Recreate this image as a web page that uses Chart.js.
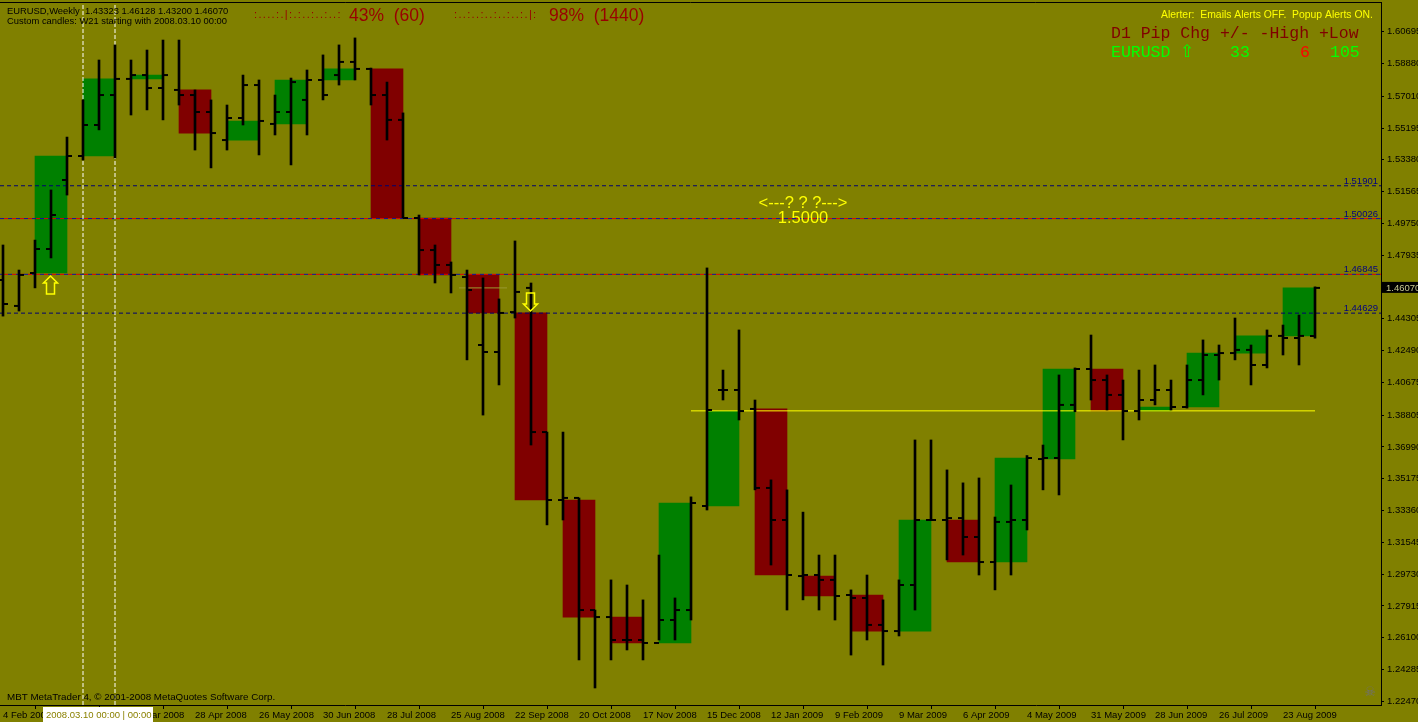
<!DOCTYPE html>
<html><head><meta charset="utf-8">
<script src="https://cdn.jsdelivr.net/npm/chart.js@4.4.1/dist/chart.umd.min.js"></script>
<style>html,body{margin:0;padding:0;background:#808000;overflow:hidden}</style>
</head><body>
<canvas id="c" width="1418" height="722" style="width:1418px;height:722px;display:block"></canvas>
<script>
// ---- weekly OHLC bars (EURUSD, Weekly), first bar = week of 4 Feb 2008 ----
const weekOpen = [
 1.4652,1.4504,1.4692,1.4829,1.5223,1.5360,1.5537,1.5708,1.5800,1.5822,
 1.5748,1.5737,1.5708,1.5611,1.5451,1.5577,1.5765,1.5543,1.5611,1.5680,
 1.5794,1.5822,1.5897,1.5857,1.5708,1.5566,1.5006,1.4823,1.4738,1.4669,
 1.4281,1.4241,1.4469,1.4607,1.3784,1.3396,1.3408,1.2768,1.2728,1.2597,
 1.2597,1.2580,1.2711,1.2768,1.3362,1.4024,1.4024,1.3916,1.3465,1.3282,
 1.2962,1.2968,1.2940,1.2854,1.2837,1.2683,1.2648,1.2911,1.3282,1.3282,
 1.3293,1.3185,1.3042,1.3271,1.3282,1.3630,1.3636,1.3939,1.4144,1.4081,
 1.3996,1.3904,1.3967,1.4024,1.3927,1.4081,1.4224,1.4235,1.4253,1.4167,
 1.4333,1.4321,1.43323];
const weekHigh = [
 1.4852,1.4709,1.4880,1.5166,1.5468,1.5680,1.5908,1.5994,1.5908,1.5965,
 1.6022,1.6022,1.5737,1.5680,1.5651,1.5822,1.5794,1.5708,1.5805,1.5851,
 1.5937,1.5994,1.6034,1.5862,1.5782,1.5606,1.5023,1.4852,1.4755,1.4709,
 1.4664,1.4544,1.4875,1.4635,1.3784,1.3784,1.3408,1.2768,1.2940,1.2911,
 1.2826,1.3082,1.2837,1.3414,1.4721,1.4138,1.4367,1.3967,1.3511,1.3454,
 1.3327,1.3082,1.3082,1.2883,1.2968,1.2826,1.2940,1.3739,1.3739,1.3568,
 1.3494,1.3522,1.3299,1.3482,1.3650,1.3710,1.4110,1.4150,1.4338,1.4110,
 1.4081,1.4138,1.4167,1.4081,1.4167,1.4310,1.4281,1.4435,1.4281,1.4367,
 1.4395,1.4452,1.46128];
const weekLow = [
 1.4446,1.4475,1.4607,1.4778,1.5137,1.5337,1.5509,1.5349,1.5594,1.5623,
 1.5566,1.5651,1.5394,1.5292,1.5394,1.5537,1.5366,1.5480,1.5309,1.5480,
 1.5680,1.5765,1.5794,1.5651,1.5451,1.5006,1.4681,1.4635,1.4578,1.4196,
 1.3881,1.4053,1.4435,1.3710,1.3254,1.3282,1.2483,1.2323,1.2483,1.2540,
 1.2483,1.2597,1.2597,1.2711,1.3339,1.3967,1.3853,1.3454,1.3025,1.2768,
 1.2826,1.2768,1.2711,1.2511,1.2597,1.2454,1.2620,1.2768,1.3282,1.3054,
 1.3082,1.2968,1.2883,1.2968,1.3225,1.3454,1.3425,1.3900,1.3967,1.3910,
 1.3739,1.3853,1.3939,1.3910,1.3921,1.3996,1.4081,1.4196,1.4053,1.4150,
 1.4224,1.4167,1.43200];
const weekClose = [
 1.4515,1.4681,1.4829,1.5023,1.5360,1.5537,1.5708,1.5800,1.5822,1.5748,
 1.5822,1.5708,1.5611,1.5491,1.5577,1.5765,1.5560,1.5611,1.5782,1.5794,
 1.5708,1.5897,1.5857,1.5708,1.5566,1.5006,1.4823,1.4738,1.4681,1.4595,
 1.4241,1.4464,1.4584,1.3784,1.3396,1.3408,1.2768,1.2728,1.2597,1.2597,
 1.2580,1.2711,1.2768,1.3379,1.3910,1.4024,1.3904,1.3465,1.3282,1.2968,
 1.2968,1.2940,1.2848,1.2837,1.2683,1.2648,1.2911,1.3282,1.3282,1.3293,
 1.3185,1.3042,1.3271,1.3282,1.3636,1.3636,1.3939,1.4144,1.4081,1.3996,
 1.3904,1.3967,1.4024,1.3927,1.4081,1.4224,1.4235,1.4253,1.4167,1.4333,
 1.4321,1.4333,1.46070];

// ---- custom 3-week (W21) candles, first one starts at weekly bar #2 ----
const candleFirstWeek = 2;
const candleWeeks = 3;
const candleOpen = [1.4692,1.5360,1.5800,1.5737,1.5451,1.5543,1.5794,1.5857,1.5006,1.4681,
 1.4464,1.3396,1.2728,1.2580,1.3362,1.3916,1.2962,1.2854,1.2648,1.3282,
 1.3042,1.3630,1.4144,1.3904,1.3927,1.4235,1.4333];
const candleClose = [1.5360,1.5800,1.5822,1.5491,1.5560,1.5794,1.5857,1.5006,1.4681,1.4464,
 1.3396,1.2728,1.2580,1.3379,1.3904,1.2968,1.2848,1.2648,1.3282,1.3042,
 1.3636,1.4144,1.3904,1.3927,1.4235,1.4333,1.46070];

// ---- axis labels ----
const dateLabels = ["4 Feb 2008","3 Mar 2008","31 Mar 2008","28 Apr 2008","26 May 2008","30 Jun 2008",
 "28 Jul 2008","25 Aug 2008","22 Sep 2008","20 Oct 2008","17 Nov 2008","15 Dec 2008","12 Jan 2009",
 "9 Feb 2009","9 Mar 2009","6 Apr 2009","4 May 2009","31 May 2009","28 Jun 2009","26 Jul 2009","23 Aug 2009"];
const dateLabelStep = 4;
const priceTicks = [1.60695,1.58880,1.57010,1.55195,1.53380,1.51565,1.49750,1.47935,1.46120,1.44305,
 1.42490,1.40675,1.38805,1.36990,1.35175,1.33360,1.31545,1.29730,1.27915,1.26100,1.24285,1.22470];

// ---- objects on the chart ----
const levelNavy = [1.51901,1.44629];
const levelRedBlue = [1.50026,1.46845];
const trendPrice = 1.3905, trendFrom = 43, trendTo = 82;
const markPrice = 1.4607, markFrom = 29, markTo = 31;
const vlineWeeks = [5,7];
const arrowWeeks = [3,33];
const arrowPrices = [1.4675,1.4475];
const arrowDirs = ['up','down'];
const lastPrice = 1.46070;
const yMin = 1.22259, yMax = 1.62391;
const xMin = -0.1875, xMax = 86.125;

const nW = weekOpen.length;
const idx = Array.from({length:nW},(_, i)=>i);
const candles = candleOpen.map((o,k)=>({x: candleFirstWeek + k*candleWeeks + 1, y:[o, candleClose[k]]}));
const candleColors = candleOpen.map((o,k)=> candleClose[k] >= o ? '#008000' : '#800000');
const tickFont = {family:'Liberation Sans', size:9.5};

function hline(v, color, dash, offset, order){
  return {type:'line', data:[{x:xMin,y:v},{x:xMax,y:v}], borderColor:color, borderWidth:1,
    borderDash:dash, borderDashOffset:offset||0, pointRadius:0, order:order, fill:false};
}
const datasets = [
  {type:'bar', data:candles, backgroundColor:candleColors, barThickness:32, grouped:false, order:20, borderWidth:0},
];
levelNavy.forEach(v=>datasets.push(hline(v,'#000070',[4,3],0,15)));
levelRedBlue.forEach(v=>{datasets.push(hline(v,'#1010a0',[4,4],0,15)); datasets.push(hline(v,'#e00000',[4,4],4,14));});
datasets.push({type:'line', data:[{x:trendFrom,y:trendPrice},{x:trendTo,y:trendPrice}], borderColor:'#ffff00', borderWidth:1, pointRadius:0, order:13});
datasets.push({type:'line', data:[{x:markFrom-0.5,y:markPrice},{x:markTo+0.5,y:markPrice}], borderColor:'#9a9a30', borderWidth:1, pointRadius:0, order:13});
vlineWeeks.forEach(w=>datasets.push({type:'line', data:[{x:w,y:yMin},{x:w,y:yMax}], borderColor:'#ffffff', borderWidth:1, borderDash:[4,2], pointRadius:0, order:12}));
datasets.push({type:'bar', data:idx.map(i=>({x:i,y:[weekLow[i],weekHigh[i]]})), backgroundColor:'#000', barThickness:2, grouped:false, order:5, borderWidth:0});
datasets.push({type:'line', showLine:false, data:idx.map(i=>({x:i-0.156,y:weekOpen[i]})), pointStyle:'line', pointRadius:2.5, pointHoverRadius:2.5, borderColor:'#000', pointBorderWidth:2, borderWidth:2, order:1});
datasets.push({type:'line', showLine:false, data:idx.map(i=>({x:i+0.156,y:weekClose[i]})), pointStyle:'line', pointRadius:2.5, pointHoverRadius:2.5, borderColor:'#000', pointBorderWidth:2, borderWidth:2, order:1});

function arrow(ctx, cx, tip, dir){
  const s = dir==='up' ? 1 : -1;
  ctx.beginPath();
  ctx.moveTo(cx, tip);
  ctx.lineTo(cx+7, tip+7*s);
  ctx.lineTo(cx+4, tip+7*s);
  ctx.lineTo(cx+4, tip+18*s);
  ctx.lineTo(cx-4, tip+18*s);
  ctx.lineTo(cx-4, tip+7*s);
  ctx.lineTo(cx-7, tip+7*s);
  ctx.closePath();
  ctx.strokeStyle='#ffff00'; ctx.lineWidth=1.5; ctx.stroke();
}

const decor = {
  id:'decor',
  afterDraw(chart){
    const ctx = chart.ctx, xs = chart.scales.x, ys = chart.scales.y, a = chart.chartArea;
    ctx.save();
    ctx.strokeStyle='#000'; ctx.lineWidth=1;
    ctx.beginPath(); ctx.moveTo(0,a.top+0.5); ctx.lineTo(a.right,a.top+0.5); ctx.stroke();
    arrowWeeks.forEach((w,k)=>arrow(ctx, xs.getPixelForValue(w)-0.5, ys.getPixelForValue(arrowPrices[k]), arrowDirs[k]));
    ctx.font='9.5px "Liberation Sans"'; ctx.fillStyle='#000080'; ctx.textAlign='right'; ctx.textBaseline='alphabetic';
    levelNavy.concat(levelRedBlue).forEach(v=>ctx.fillText(v.toFixed(5), a.right-3, ys.getPixelForValue(v)-2));
    const py = ys.getPixelForValue(lastPrice);
    ctx.fillStyle='#000'; ctx.fillRect(a.right+1, py-6, 37, 11);
    ctx.fillStyle='#c8c890'; ctx.textAlign='left'; ctx.textBaseline='middle';
    ctx.fillText(lastPrice.toFixed(5), a.right+5, py);
    ctx.fillStyle='#000'; ctx.textBaseline='alphabetic'; ctx.textAlign='left';
    ctx.font='9.4px "Liberation Sans"';
    ctx.fillText('EURUSD,Weekly  1.43323 1.46128 1.43200 1.46070', 7, 14);
    ctx.fillText('Custom candles: W21 starting with 2008.03.10 00:00', 7, 24);
    ctx.font='9.8px "Liberation Sans"';
    ctx.fillText('MBT MetaTrader 4, \u00a9 2001-2008 MetaQuotes Software Corp.', 7, 700);
    ctx.fillStyle='#990000'; ctx.font='11px "Liberation Sans"';
    ctx.letterSpacing='1.35px';
    ctx.fillText(':....:.|:.:..:..:..:', 254, 18);
    ctx.fillText(':..:..:..:..:..:.|:', 454, 18);
    ctx.letterSpacing='0px';
    ctx.font='17.5px "Liberation Sans"';
    ctx.fillText('43%  (60)', 349, 21);
    ctx.fillText('98%  (1440)', 549, 21);
    ctx.font='10.4px "Liberation Sans"'; ctx.fillStyle='#ffff00';
    ctx.fillText('Alerter:  Emails Alerts OFF.  Popup Alerts ON.', 1161, 18);
    ctx.font='16.5px "Liberation Mono"'; ctx.fillStyle='#800000';
    ctx.fillText('D1 Pip Chg +/- -High +Low', 1111, 38);
    ctx.fillStyle='#00ff00';
    ctx.fillText('EURUSD', 1111, 57);
    ctx.fillText('33', 1230, 57);
    ctx.fillText('105', 1330, 57);
    ctx.fillStyle='#ff0000';
    ctx.fillText('6', 1300, 57);
    ctx.fillStyle='#00ff00'; ctx.font='17px "DejaVu Sans"';
    ctx.fillText('\u21e7', 1180, 57);
    ctx.fillStyle='#ffff00'; ctx.font='16.5px "Liberation Sans"'; ctx.textAlign='center';
    ctx.fillText('<---? ? ?--->', 803, 208);
    ctx.fillText('1.5000', 803, 223);
    ctx.fillStyle='#707070'; ctx.font='13px "DejaVu Sans"';
    ctx.fillText('\u2620', 1370, 696);
    ctx.fillStyle='#ffffff'; ctx.fillRect(43, 707, 110, 15);
    ctx.fillStyle='#8a8000'; ctx.font='9.5px "Liberation Sans"'; ctx.textAlign='left'; ctx.textBaseline='middle';
    ctx.fillText('2008.03.10 00:00 | 00:00', 46, 715);
    ctx.restore();
  }
};

function noPad(s){ s.paddingTop = 0; s.paddingBottom = 0; s.paddingLeft = 0; s.paddingRight = 0; }

new Chart(document.getElementById('c'), {
  type:'bar',
  data:{datasets},
  options:{
    responsive:false, animation:false, devicePixelRatio:1,
    layout:{autoPadding:false, padding:{top:2,left:0,right:0,bottom:0}},
    plugins:{legend:{display:false}, tooltip:{enabled:false}},
    events:[],
    scales:{
      x:{type:'linear', min:xMin, max:xMax, offset:false,
        grid:{drawOnChartArea:false, drawTicks:true, tickLength:4, color:'#000'},
        border:{display:true, color:'#000', width:1},
        ticks:{autoSkip:false, maxRotation:0, minRotation:0, align:'start', padding:1, color:'#000', font:tickFont,
          callback:(v)=>{ const k=Math.round(v/dateLabelStep); return dateLabels[k]; }},
        afterBuildTicks:(s)=>{ s.ticks = dateLabels.map((_,k)=>({value:k*dateLabelStep})); },
        afterFit:(s)=>{ s.height = 17; noPad(s); }
      },
      y:{position:'right', min:yMin, max:yMax,
        grid:{drawOnChartArea:false, drawTicks:true, tickLength:3, color:'#000'},
        border:{display:true, color:'#000', width:1},
        ticks:{padding:3, color:'#000', font:tickFont, callback:(v)=>Number(v).toFixed(5)},
        afterBuildTicks:(s)=>{ s.ticks = priceTicks.map(v=>({value:v})); },
        afterFit:(s)=>{ s.width = 37; noPad(s); }
      }
    }
  },
  plugins:[decor]
});
</script>
</body></html>
